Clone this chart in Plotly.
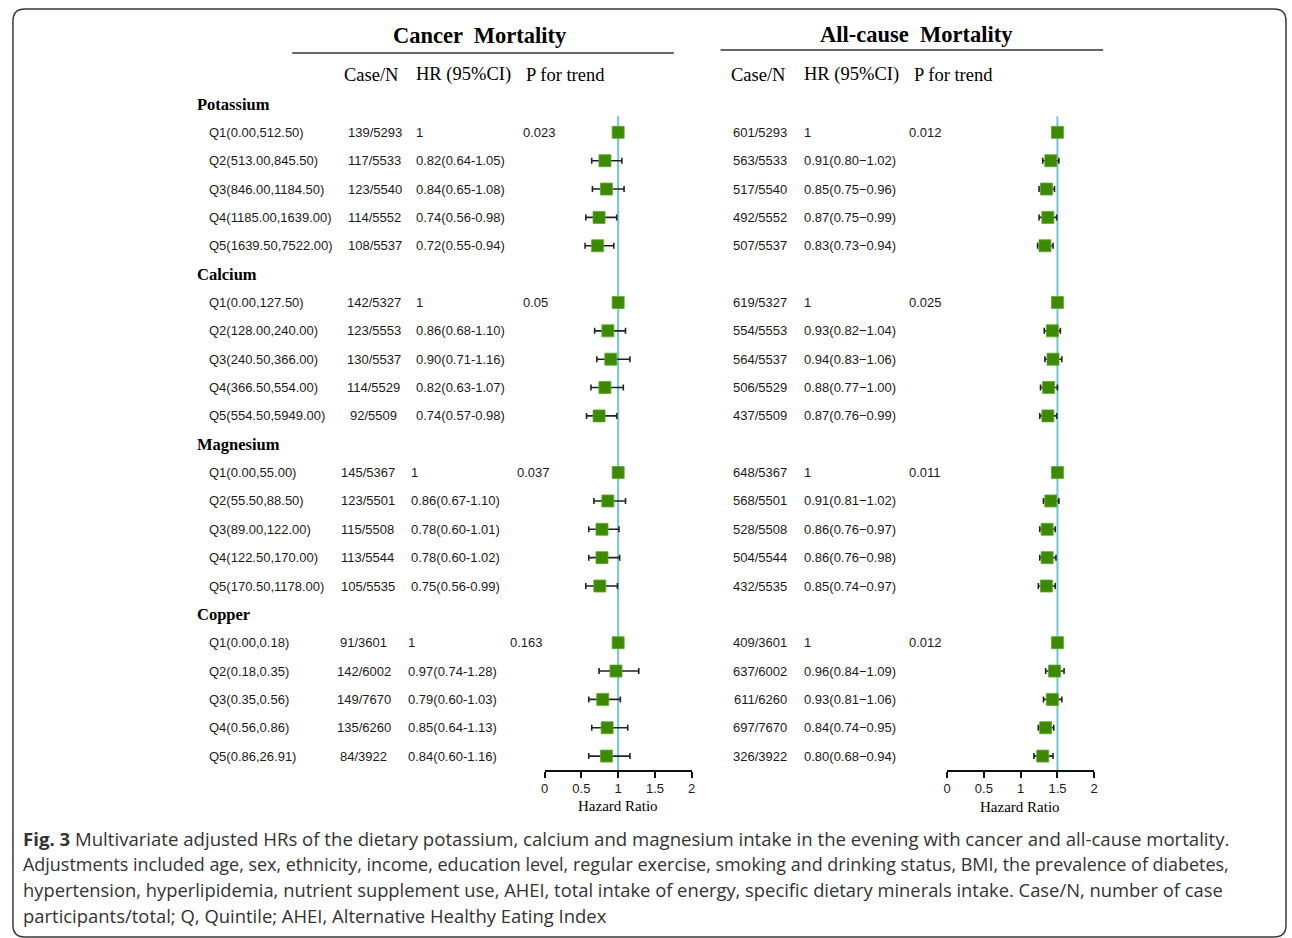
import plotly.graph_objects as go

# ---------------- data ----------------
groups = ["Potassium", "Calcium", "Magnesium", "Copper"]

quintiles = [
    ["Q1(0.00,512.50)", "Q2(513.00,845.50)", "Q3(846.00,1184.50)", "Q4(1185.00,1639.00)", "Q5(1639.50,7522.00)"],
    ["Q1(0.00,127.50)", "Q2(128.00,240.00)", "Q3(240.50,366.00)", "Q4(366.50,554.00)", "Q5(554.50,5949.00)"],
    ["Q1(0.00,55.00)", "Q2(55.50,88.50)", "Q3(89.00,122.00)", "Q4(122.50,170.00)", "Q5(170.50,1178.00)"],
    ["Q1(0.00,0.18)", "Q2(0.18,0.35)", "Q3(0.35,0.56)", "Q4(0.56,0.86)", "Q5(0.86,26.91)"],
]

cancer_casen = [
    ["139/5293", "117/5533", "123/5540", "114/5552", "108/5537"],
    ["142/5327", "123/5553", "130/5537", "114/5529", "92/5509"],
    ["145/5367", "123/5501", "115/5508", "113/5544", "105/5535"],
    ["91/3601", "142/6002", "149/7670", "135/6260", "84/3922"],
]
cancer_hr = [
    [1, 0.82, 0.84, 0.74, 0.72],
    [1, 0.86, 0.90, 0.82, 0.74],
    [1, 0.86, 0.78, 0.78, 0.75],
    [1, 0.97, 0.79, 0.85, 0.84],
]
cancer_lo = [
    [1, 0.64, 0.65, 0.56, 0.55],
    [1, 0.68, 0.71, 0.63, 0.57],
    [1, 0.67, 0.60, 0.60, 0.56],
    [1, 0.74, 0.60, 0.64, 0.60],
]
cancer_hi = [
    [1, 1.05, 1.08, 0.98, 0.94],
    [1, 1.10, 1.16, 1.07, 0.98],
    [1, 1.10, 1.01, 1.02, 0.99],
    [1, 1.28, 1.03, 1.13, 1.16],
]
cancer_p = ["0.023", "0.05", "0.037", "0.163"]

allc_casen = [
    ["601/5293", "563/5533", "517/5540", "492/5552", "507/5537"],
    ["619/5327", "554/5553", "564/5537", "506/5529", "437/5509"],
    ["648/5367", "568/5501", "528/5508", "504/5544", "432/5535"],
    ["409/3601", "637/6002", "611/6260", "697/7670", "326/3922"],
]
allc_hr = [
    [1, 0.91, 0.85, 0.87, 0.83],
    [1, 0.93, 0.94, 0.88, 0.87],
    [1, 0.91, 0.86, 0.86, 0.85],
    [1, 0.96, 0.93, 0.84, 0.80],
]
allc_lo = [
    [1, 0.80, 0.75, 0.75, 0.73],
    [1, 0.82, 0.83, 0.77, 0.76],
    [1, 0.81, 0.76, 0.76, 0.74],
    [1, 0.84, 0.81, 0.74, 0.68],
]
allc_hi = [
    [1, 1.02, 0.96, 0.99, 0.94],
    [1, 1.04, 1.06, 1.00, 0.99],
    [1, 1.02, 0.97, 0.98, 0.97],
    [1, 1.09, 1.06, 0.95, 0.94],
]
allc_p = ["0.012", "0.025", "0.011", "0.012"]

axis_ticks = [0, 0.5, 1, 1.5, 2]

caption_lines = [
    "<b>Fig. 3</b> Multivariate adjusted HRs of the dietary potassium, calcium and magnesium intake in the evening with cancer and all-cause mortality.",
    "Adjustments included age, sex, ethnicity, income, education level, regular exercise, smoking and drinking status, BMI, the prevalence of diabetes,",
    "hypertension, hyperlipidemia, nutrient supplement use, AHEI, total intake of energy, specific dietary minerals intake. Case/N, number of case",
    "participants/total; Q, Quintile; AHEI, Alternative Healthy Eating Index",
]

# ---------------- layout constants (pixels) ----------------
W, H = 1292, 938
SERIF = "Liberation Serif, Times New Roman, serif"
SANS = "Liberation Sans, Arial, sans-serif"
TXT = "#1a1a1a"
GREEN = "#3d8a00"
REF = "#6cc7d8"
caption_sizes = [18.6, 17.95, 18.35, 18.45]

def px(x):
    return x / W

def py(y):
    return 1 - y / H

# per-group column x positions (cancer panel)
c_case_x = [373, 372, 366, 362]
c_hr_x = [413, 413, 408, 405]
c_p_x = [520, 520, 514, 507]
# all-cause panel
a_case_x = 761
a_hr_x = 803
a_p_x = 909

fig = go.Figure()

def rows_for(g):
    return [g * 6 + 1 + q for q in range(5)]

# forest traces
for g in range(4):
    rows = rows_for(g)
    hr = cancer_hr[g]
    fig.add_trace(go.Scatter(
        x=hr, y=rows, mode="markers", xaxis="x", yaxis="y",
        marker=dict(symbol="square", size=12, color=GREEN, line=dict(color="#5aa830", width=0.8)),
        error_x=dict(type="data", symmetric=False,
                     array=[h - v for h, v in zip(cancer_hi[g], hr)],
                     arrayminus=[v - l for l, v in zip(cancer_lo[g], hr)],
                     color="#222222", thickness=1.6, width=3),
        showlegend=False, hoverinfo="skip"))
    hr2 = allc_hr[g]
    fig.add_trace(go.Scatter(
        x=hr2, y=rows, mode="markers", xaxis="x2", yaxis="y",
        marker=dict(symbol="square", size=12, color=GREEN, line=dict(color="#5aa830", width=0.8)),
        error_x=dict(type="data", symmetric=False,
                     array=[h - v for h, v in zip(allc_hi[g], hr2)],
                     arrayminus=[v - l for l, v in zip(allc_lo[g], hr2)],
                     color="#222222", thickness=1.6, width=3),
        showlegend=False, hoverinfo="skip"))

ann = []

def add(text, x, y, size, font=SANS, anchor="left", yref="y", color=TXT):
    ann.append(dict(text=text, x=px(x), xref="paper", y=y, yref=yref,
                    xanchor=anchor, yanchor="middle", showarrow=False,
                    font=dict(family=font, size=size, color=color)))

def fmt_hr(h, l, u, dash):
    if h == 1 and l == 1 and u == 1:
        return "1"
    return f"{h:.2f}({l:.2f}{dash}{u:.2f})"

for g in range(4):
    add(f"<b>{groups[g]}</b>", 192, g * 6, 16.5, font=SERIF, color="#000")
    for q, r in enumerate(rows_for(g)):
        add(quintiles[g][q], 204, r, 13)
        add(cancer_casen[g][q], c_case_x[g], r, 13, anchor="center")
        add(fmt_hr(cancer_hr[g][q], cancer_lo[g][q], cancer_hi[g][q], "-"), c_hr_x[g], r, 13)
        add(allc_casen[g][q], a_case_x, r, 13, anchor="center")
        add(fmt_hr(allc_hr[g][q], allc_lo[g][q], allc_hi[g][q], "\u2212"), a_hr_x, r, 13)
    add(cancer_p[g], c_p_x[g], g * 6 + 1, 13)
    add(allc_p[g], a_p_x, g * 6 + 1, 13)

# titles and column headers
add("<b>Cancer  Mortality</b>", 479, py(36), 22.5, font=SERIF, anchor="center", yref="paper", color="#000")
add("<b>All-cause  Mortality</b>", 918, py(34), 22.5, font=SERIF, anchor="center", yref="paper", color="#000")
for (x, t) in [(340, "Case/N"), (413, "HR (95%CI)"), (523, "P for trend"),
               (730, "Case/N"), (803, "HR (95%CI)"), (914, "P for trend")]:
    add(t, x, py(75), 18.5, font=SERIF, yref="paper", color="#000")

# Hazard ratio axis titles
add("Hazard Ratio", 618, py(806), 15, font=SERIF, anchor="center", yref="paper", color="#000")
add("Hazard Ratio", 1022, py(807), 15, font=SERIF, anchor="center", yref="paper", color="#000")

# caption
for i, line in enumerate(caption_lines):
    ann.append(dict(text=line, x=px(17), xref="paper", y=py(838 + i * 25.8), yref="paper",
                    xanchor="left", yanchor="middle", showarrow=False,
                    font=dict(family="Open Sans, sans-serif", size=caption_sizes[i], color="#333333")))

shapes = [
    # reference lines at HR = 1
    dict(type="line", xref="x", x0=1, x1=1, yref="y", y0=0.435, y1=23.49,
         line=dict(color=REF, width=2), layer="below"),
    dict(type="line", xref="x2", x0=1, x1=1, yref="y", y0=0.435, y1=23.49,
         line=dict(color=REF, width=2), layer="below"),
    # header rules
    dict(type="line", xref="paper", yref="paper", x0=px(290), x1=px(674), y0=py(53), y1=py(53),
         line=dict(color="#333", width=1.5)),
    dict(type="line", xref="paper", yref="paper", x0=px(721), x1=px(1106), y0=py(50), y1=py(50),
         line=dict(color="#333", width=1.5)),
]

# rounded border frame
r = 12
x0, x1, y0, y1 = 9, 1290, 9, 937
path = (f"M {px(x0 + r)} {py(y0)} L {px(x1 - r)} {py(y0)} "
        f"Q {px(x1)} {py(y0)} {px(x1)} {py(y0 + r)} "
        f"L {px(x1)} {py(y1 - r)} Q {px(x1)} {py(y1)} {px(x1 - r)} {py(y1)} "
        f"L {px(x0 + r)} {py(y1)} Q {px(x0)} {py(y1)} {px(x0)} {py(y1 - r)} "
        f"L {px(x0)} {py(y0 + r)} Q {px(x0)} {py(y0)} {px(x0 + r)} {py(y0)} Z")
shapes.append(dict(type="path", xref="paper", yref="paper", path=path,
                   line=dict(color="#3a3a3a", width=1.5)))

axis_common = dict(showline=True, linecolor="#111", linewidth=1.5, ticks="outside",
                   ticklen=6, tickwidth=1.5, tickcolor="#111", showgrid=False, zeroline=False,
                   tickfont=dict(family=SANS, size=13, color=TXT), anchor="y", fixedrange=True)

# row 0 (group header) sits at 104 px, rows are 28.32 px apart
fig.update_layout(
    width=W, height=H, margin=dict(l=0, r=0, t=0, b=0),
    paper_bgcolor="white", plot_bgcolor="rgba(0,0,0,0)",
    xaxis=dict(domain=[px(544), px(692)], range=[0, 2], tickvals=axis_ticks,
               ticktext=[f"{t:g}" for t in axis_ticks], **axis_common),
    # the published all-cause panel draws HR = 1 under the "1.5" tick (axis labels offset by 0.5)
    xaxis2=dict(domain=[px(949), px(1097)], range=[-0.5, 1.5],
                tickvals=[t - 0.5 for t in axis_ticks],
                ticktext=[f"{t:g}" for t in axis_ticks], **axis_common),
    yaxis=dict(domain=[py(770), py(89.84)], range=[23.49, -0.5], visible=False, fixedrange=True),
    annotations=ann, shapes=shapes, showlegend=False,
)

fig.write_html("out.html", config={"displayModeBar": False},
               post_script="document.body.style.margin='0';document.body.style.overflow='hidden';")
